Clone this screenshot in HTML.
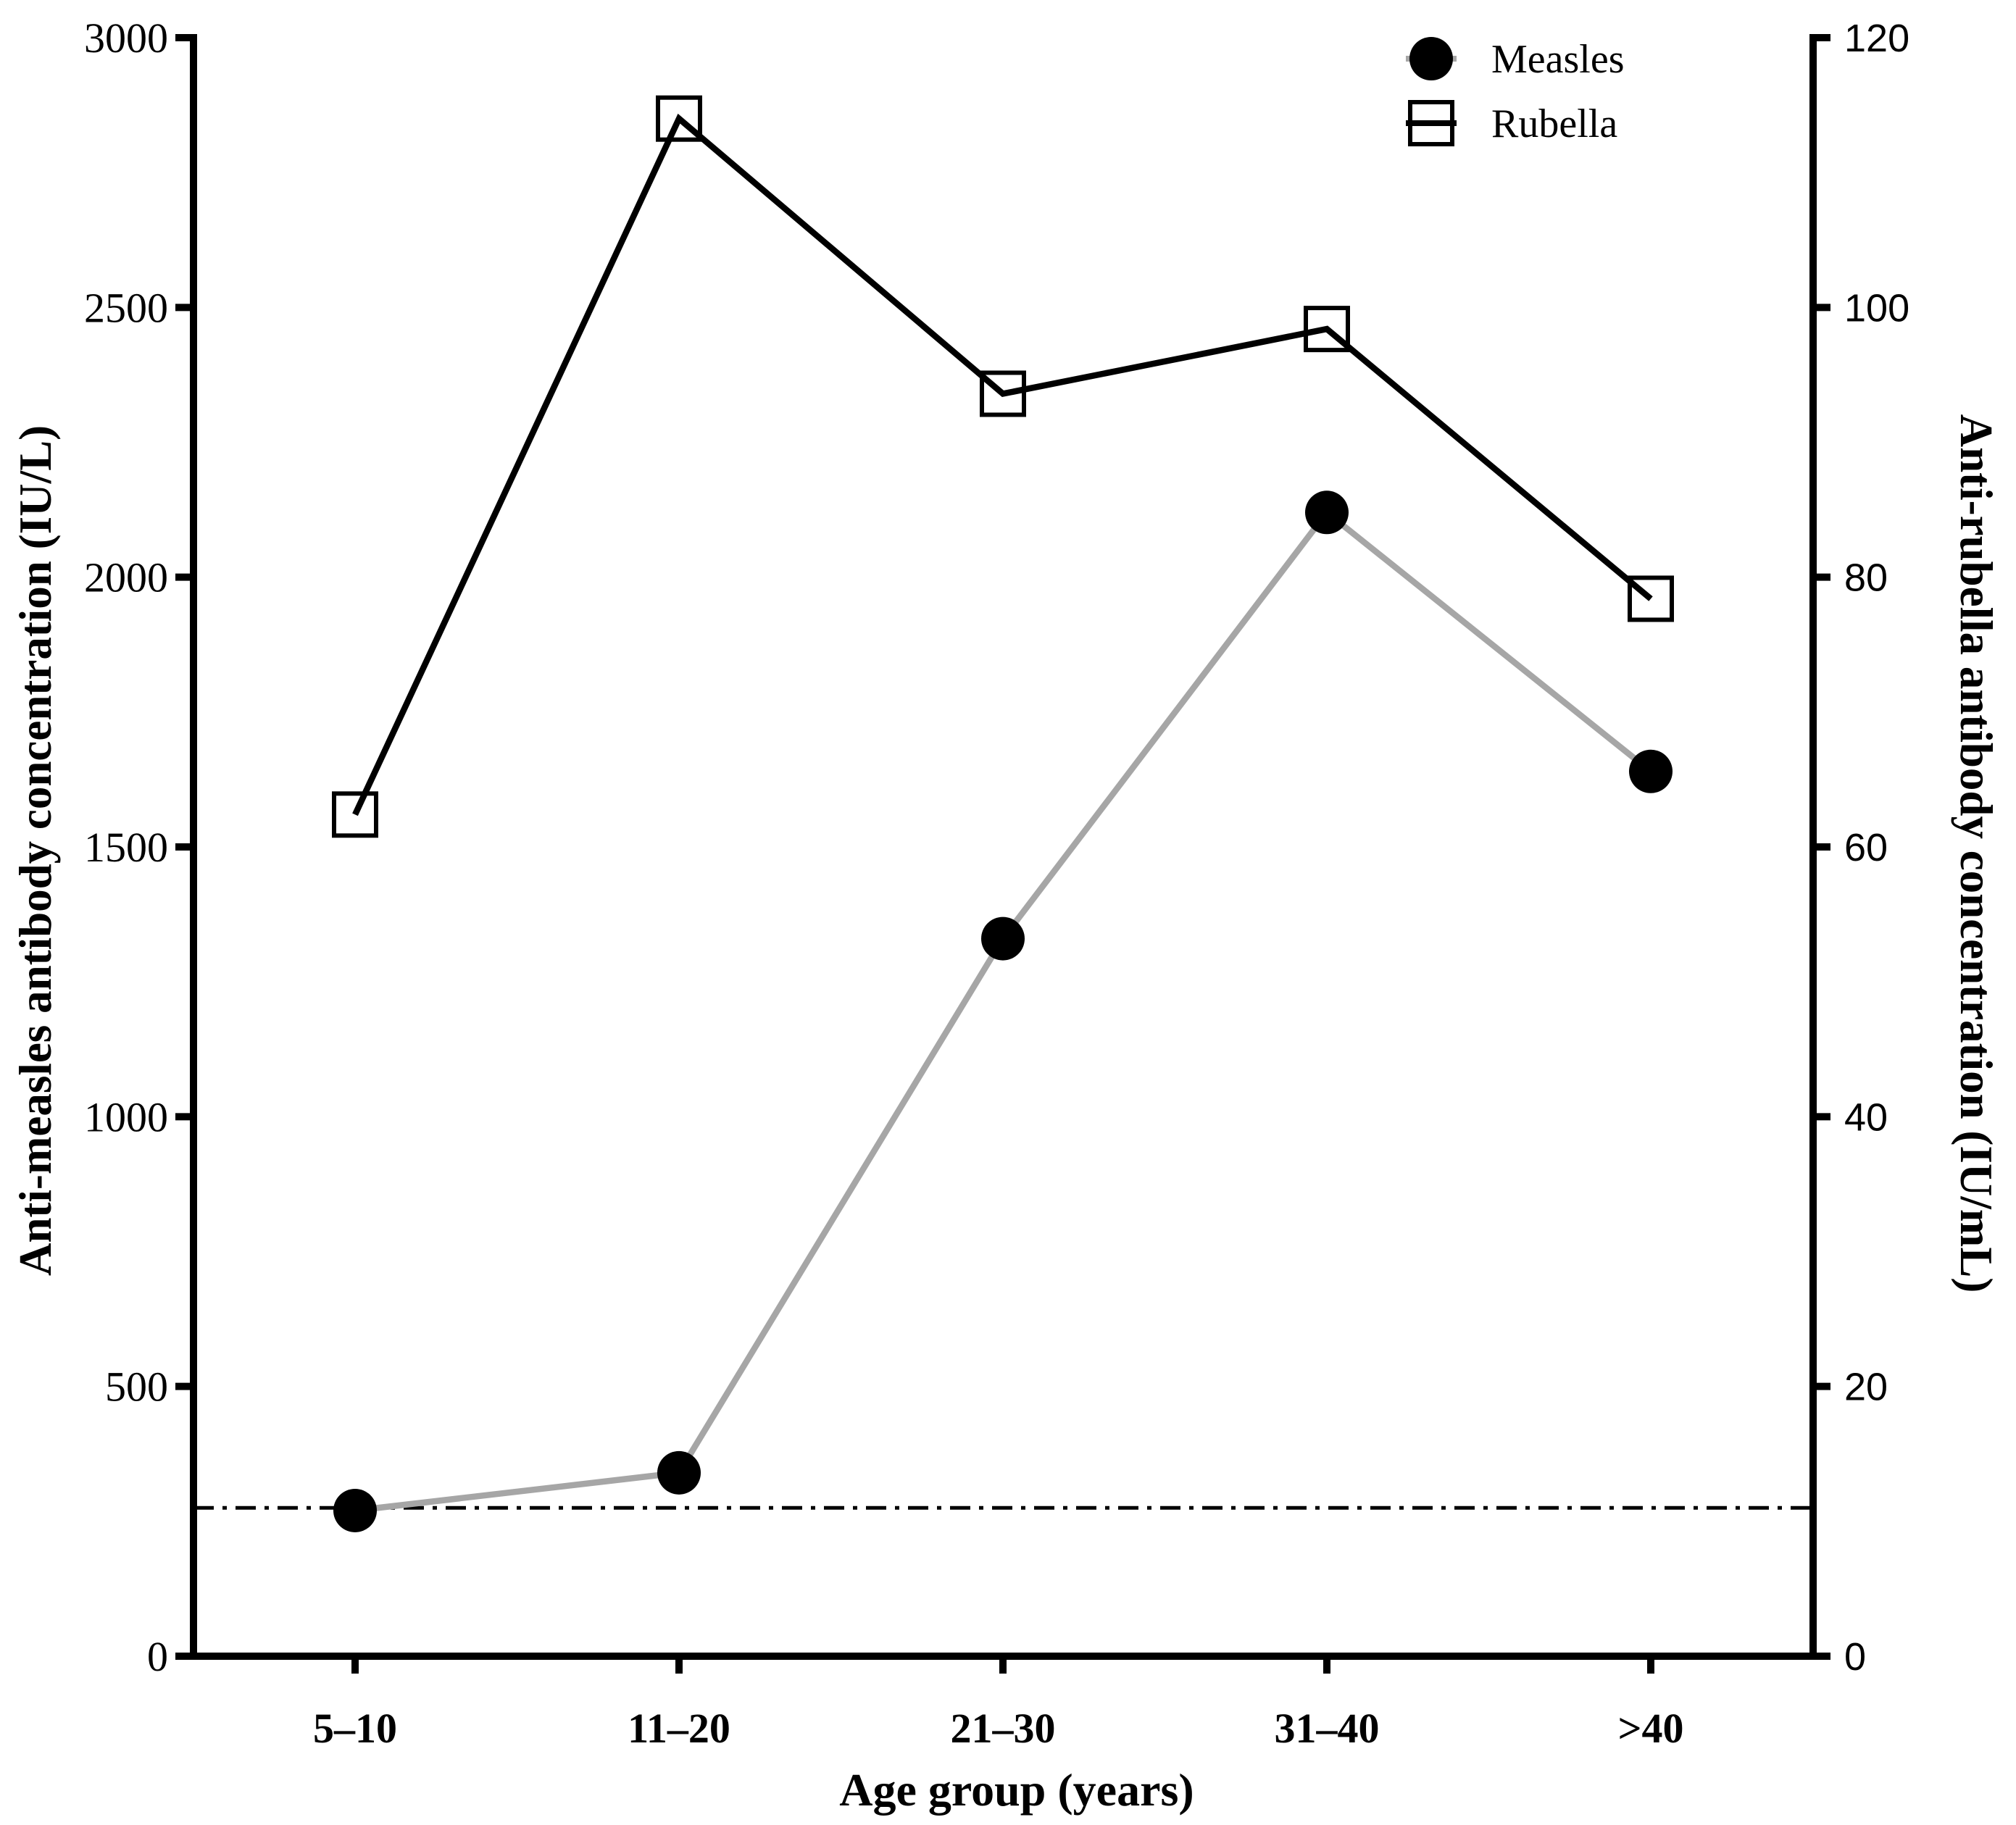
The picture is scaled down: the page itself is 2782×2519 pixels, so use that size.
<!DOCTYPE html>
<html><head><meta charset="utf-8"><style>
html,body{margin:0;padding:0;background:#fff;}
svg{display:block;}
</style></head><body>
<svg id="chart" width="2782" height="2519" viewBox="0 0 2782 2519" xmlns="http://www.w3.org/2000/svg">
<g id="axes"></g>
<g id="marks"></g>
<g id="legend">
  <line x1="1940" y1="81" x2="2010" y2="81" stroke="#a6a6a6" stroke-width="8"/>
  <circle cx="1975" cy="81" r="30" fill="#000"/>
  <text x="2058" y="100" font-family="Liberation Serif, serif" font-size="56">Measles</text>
  <line x1="1940" y1="170" x2="2010" y2="170" stroke="#000" stroke-width="8"/>
  <rect x="1946" y="141" width="58" height="58" fill="none" stroke="#000" stroke-width="6"/>
  <text x="2058" y="189" font-family="Liberation Serif, serif" font-size="56">Rubella</text>
</g>
<text x="1403" y="2492" text-anchor="middle" font-family="Liberation Serif, serif" font-weight="bold" font-size="64">Age group (years)</text>
<text transform="translate(70,1174) rotate(-90)" text-anchor="middle" font-family="Liberation Serif, serif" font-weight="bold" font-size="63">Anti-measles antibody concentration (IU/L)</text>
<text transform="translate(2706,1178) rotate(90)" text-anchor="middle" font-family="Liberation Serif, serif" font-weight="bold" font-size="63">Anti-rubella antibody concentration (IU/mL)</text>
</svg>
<script>
const categories = ["5\u201310","11\u201320","21\u201330","31\u201340",">40"];
const measles = [270, 340, 1330, 2120, 1640];
const rubella = [62.4, 114, 93.6, 98.4, 78.4];
const leftTicks = [0,500,1000,1500,2000,2500,3000];
const rightTicks = [0,20,40,60,80,100,120];
const cutoff = 275;

const NS = "http://www.w3.org/2000/svg";
const X0 = 267, X1 = 2502, Y0 = 2286, Y1 = 52;
const xFirst = 490, xLast = 2278;
function xPos(i){ return xFirst + i*(xLast-xFirst)/(categories.length-1); }
function yLeft(v){ return Y0 - v/3000*(Y0-Y1); }
function yRight(v){ return Y0 - v/120*(Y0-Y1); }
function mk(tag, attrs, parent){ const e=document.createElementNS(NS,tag); for(const k in attrs) e.setAttribute(k,attrs[k]); parent.appendChild(e); return e; }

const axes = document.getElementById('axes');
const marks = document.getElementById('marks');

let e;
e = mk('line',{x1:X0,y1:Y1-5,x2:X0,y2:Y0+5,stroke:'#000','stroke-width':10},axes);


e = mk('line',{x1:X1,y1:Y1-5,x2:X1,y2:Y0+5,stroke:'#000','stroke-width':10},axes);


e = mk('line',{x1:242,y1:Y0,x2:2526,y2:Y0,stroke:'#000','stroke-width':10},axes);



leftTicks.forEach(v=>{
  const y=yLeft(v);
  let t=mk('line',{x1:242,y1:y,x2:X0,y2:y,stroke:'#000','stroke-width':10},axes);
  
  
  let l=mk('text',{x:232,y:y+20,'text-anchor':'end','font-family':'Liberation Serif, serif','font-size':58},axes);
  l.textContent=v;
  
  
});
rightTicks.forEach(v=>{
  const y=yRight(v);
  let t=mk('line',{x1:X1,y1:y,x2:2526,y2:y,stroke:'#000','stroke-width':10},axes);
  
  
  let l=mk('text',{x:2545,y:y+19,'font-family':'Liberation Sans, sans-serif','font-size':54},axes);
  l.textContent=v;
  
  
});
categories.forEach((c,i)=>{
  const x=xPos(i);
  let t=mk('line',{x1:x,y1:Y0,x2:x,y2:Y0+24,stroke:'#000','stroke-width':10},axes);
  
  
  let l=mk('text',{x:x,y:2405,'text-anchor':'middle','font-family':'Liberation Serif, serif','font-weight':'bold','font-size':58},axes);
  l.textContent=c;
  
  
});

e = mk('line',{x1:X0,y1:yLeft(cutoff),x2:X1,y2:yLeft(cutoff),stroke:'#000','stroke-width':5,'stroke-dasharray':'28 12 6 12'},marks);



e = mk('polyline',{points:measles.map((v,i)=>xPos(i)+','+yLeft(v)).join(' '),fill:'none',stroke:'#a6a6a6','stroke-width':8.5},marks);


e = mk('polyline',{points:rubella.map((v,i)=>xPos(i)+','+yRight(v)).join(' '),fill:'none',stroke:'#000','stroke-width':8.5},marks);



measles.forEach((v,i)=>{
  let c=mk('circle',{cx:xPos(i),cy:yLeft(v),r:30,fill:'#000'},marks);
  
  
});
rubella.forEach((v,i)=>{
  let r=mk('rect',{x:xPos(i)-29,y:yRight(v)-29,width:58,height:58,fill:'none',stroke:'#000','stroke-width':6},marks);
  
  
});
</script>
</body></html>
